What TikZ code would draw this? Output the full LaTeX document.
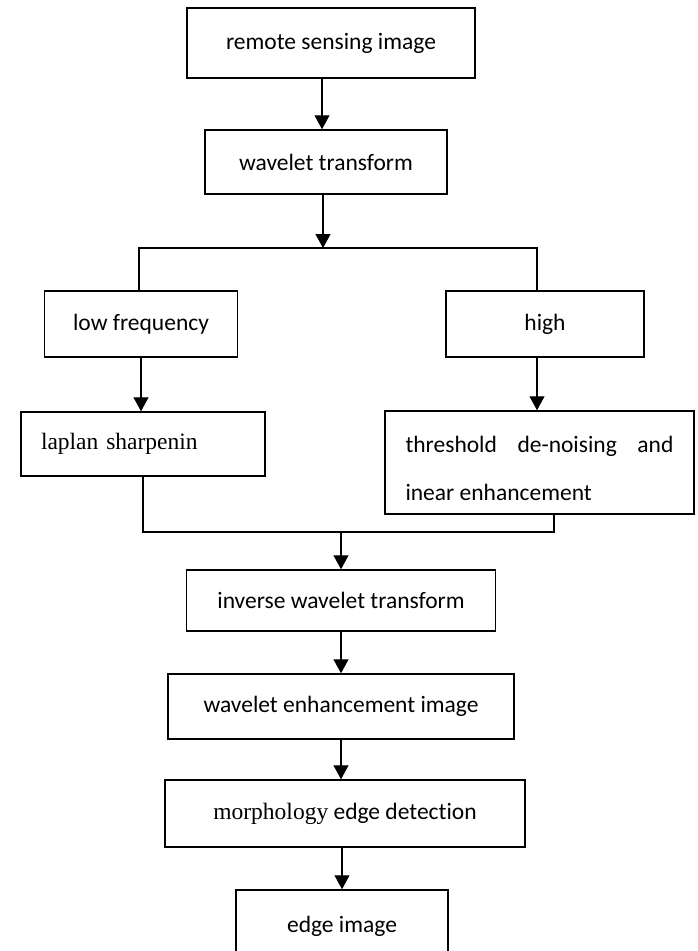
\documentclass[tikz,border=0pt]{standalone}
\usepackage{fontspec}
\setmainfont{Carlito}[Ligatures=CommonOff]
\newfontfamily\tnr{Liberation Serif}
\usetikzlibrary{arrows.meta}

\tikzset{
  box/.style={draw, line width=1.5pt, inner sep=0pt, align=center, font=\fontsize{23.5}{28}\selectfont},
  arr/.style={line width=1.3pt, -{Triangle[width=15pt,length=14pt]}},
  link/.style={line width=1.3pt}
}

\begin{document}
\begin{tikzpicture}[x=1pt,y=-1pt]
\useasboundingbox (0,0) rectangle (698,951);
\node[box, minimum width=288pt, minimum height=70pt] (remote) at (331,43) {remote sensing image};
\node[box, minimum width=242pt, minimum height=64pt] (wavelet) at (326,162) {wavelet transform};
\node[box, minimum width=193pt, minimum height=66pt] (lowfreq) at (141,324) {low frequency};
\node[box, minimum width=198pt, minimum height=66pt] (high) at (545,324) {high};
\node[box, minimum width=244pt, minimum height=64pt, text width=204pt, align=left] (laplan) at (143,444) {\tnr laplan sharpenin};
\node[box, minimum width=309pt, minimum height=103pt, align=left, font=\fontsize{23.5}{48}\selectfont] (threshold) at (539.5,462.5) {\rule{0pt}{28pt}\makebox[268pt][s]{threshold de-noising and}\\inear enhancement};
\node[box, minimum width=309pt, minimum height=61pt] (inverse) at (341,600.5) {inverse wavelet transform};
\node[box, minimum width=346pt, minimum height=65pt] (enhance) at (341,706.5) {wavelet enhancement image};
\node[box, minimum width=360pt, minimum height=67pt] (morph) at (345,813.5) {{\tnr morphology} edge detection};
\node[box, minimum width=212pt, minimum height=72pt] (edge) at (342,926) {edge image};

\coordinate (split) at (323,248);
\coordinate (bl) at (139,248);
\coordinate (br) at (537,248);
\coordinate (join) at (341,532);
\coordinate (jr) at (554,532);

\draw[arr] ([xshift=-9pt]remote.south) -- ([xshift=-9pt]remote.south |- wavelet.north);
\draw[arr] (wavelet.south -| split) -- (split);
\draw[link] (lowfreq.north -| bl) -- (bl) -- (br) -- (high.north -| br);
\draw[arr] (lowfreq.south) -- (lowfreq.south |- laplan.north);
\draw[arr] (high.south -| br) -- (br |- threshold.north);
\draw[link] (laplan.south) |- (jr) -- (jr |- threshold.south);
\draw[arr] (join) -- (join |- inverse.north);
\draw[arr] (inverse.south) -- (inverse.south |- enhance.north);
\draw[arr] (enhance.south) -- (enhance.south |- morph.north);
\draw[arr] (morph.south -| edge) -- (edge.north);
\end{tikzpicture}
\end{document}
